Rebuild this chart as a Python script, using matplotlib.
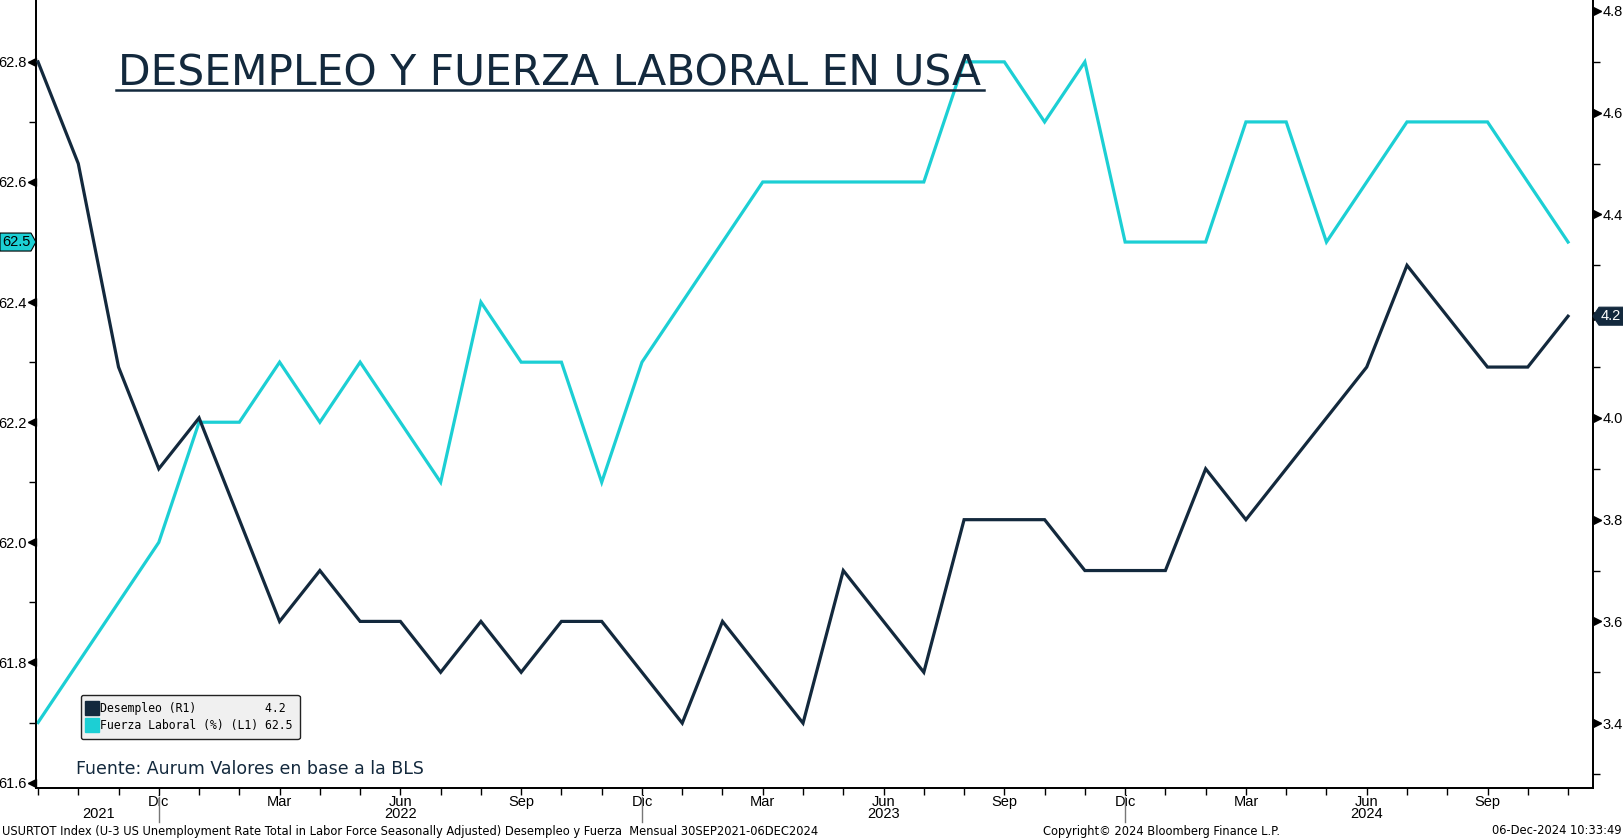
import numpy as np
import matplotlib.pyplot as plt
import matplotlib.transforms as mtransforms
from matplotlib.lines import Line2D
from matplotlib.patches import Polygon

# datos mensuales sep-2021 .. nov-2024
meses = ["Sep", "Oct", "Nov", "Dic", "Ene", "Feb", "Mar", "Abr", "May", "Jun", "Jul", "Ago"]
start_month = 8  # sep (0-based)
fuerza_laboral = [61.7, 61.8, 61.9, 62.0,
                  62.2, 62.2, 62.3, 62.2, 62.3, 62.2, 62.1, 62.4, 62.3, 62.3, 62.1, 62.3,
                  62.4, 62.5, 62.6, 62.6, 62.6, 62.6, 62.6, 62.8, 62.8, 62.7, 62.8, 62.5,
                  62.5, 62.5, 62.7, 62.7, 62.5, 62.6, 62.7, 62.7, 62.7, 62.6, 62.5]
desempleo = [4.7, 4.5, 4.1, 3.9,
             4.0, 3.8, 3.6, 3.7, 3.6, 3.6, 3.5, 3.6, 3.5, 3.6, 3.6, 3.5,
             3.4, 3.6, 3.5, 3.4, 3.7, 3.6, 3.5, 3.8, 3.8, 3.8, 3.7, 3.7,
             3.7, 3.9, 3.8, 3.9, 4.0, 4.1, 4.3, 4.2, 4.1, 4.1, 4.2]
year_labels = ["2021", "2022", "2023", "2024"]
year_pos = [1.5, 9, 21, 33]

navy = "#13293d"
cyan = "#1ccfd4"
tickfont = "Liberation Sans"

n = len(desempleo)
x = np.arange(n)
W, H = 1624, 840

fig = plt.figure(figsize=(16.24, 8.40), dpi=100)
ax = fig.add_axes([36/W, 52/H, (1593-36)/W, 788/H])
ax2 = ax.twinx()

ax.plot(x, fuerza_laboral, color=cyan, lw=2.3, solid_joinstyle="miter", zorder=3)
ax2.plot(x, desempleo, color=navy, lw=2.3, solid_joinstyle="miter", zorder=3)

ax.set_xlim(-0.05, 38.62)
ax.set_ylim(61.591, 62.903)
ax2.set_ylim(3.2725, 4.8216)

for a in (ax, ax2):
    a.spines["top"].set_visible(False)
    for s in ("left", "right", "bottom"):
        a.spines[s].set_linewidth(1.3)
        a.spines[s].set_color("black")
    a.set_facecolor("none")

# y ticks
lt = [61.6, 61.8, 62.0, 62.2, 62.4, 62.6, 62.8]
rt = [3.4, 3.6, 3.8, 4.0, 4.2, 4.4, 4.6, 4.8]
ax.set_yticks(lt)
ax.set_yticklabels([f"{v:.1f}" for v in lt], family=tickfont, fontsize=10.5)
ax.set_yticks(np.arange(61.7, 62.9, 0.2), minor=True)
ax2.set_yticks(rt)
ax2.set_yticklabels([f"{v:.1f}" for v in rt], family=tickfont, fontsize=10.5)
ax2.set_yticks(np.arange(3.3, 4.8, 0.2), minor=True)
for a in (ax, ax2):
    a.tick_params(axis="y", which="major", length=6, width=1, pad=1)
    a.tick_params(axis="y", which="minor", length=5, width=1)

# triangle markers at major ticks
tl = mtransforms.blended_transform_factory(ax.transAxes, ax.transData)
tr = mtransforms.blended_transform_factory(ax2.transAxes, ax2.transData)
ax.plot([-0.0025] * len(lt), lt, marker="<", ls="none", ms=6, color="black",
        transform=tl, clip_on=False)
ax2.plot([1.0025] * len(rt), rt, marker=">", ls="none", ms=6, color="black",
         transform=tr, clip_on=False)

# x ticks
ax.set_xticks(x, minor=True)
lab_idx = [i for i in range(n) if (start_month + i) % 12 in (2, 5, 8, 11) and i > 0]
ax.set_xticks(lab_idx)
ax.set_xticklabels([meses[(start_month + i - 8) % 12] for i in lab_idx],
                   family=tickfont, fontsize=10.5)
ax.tick_params(axis="x", which="both", length=5, width=1, pad=0)

tb = mtransforms.blended_transform_factory(ax.transData, ax.transAxes)
for i in range(n):
    if (start_month + i) % 12 == 11:
        ax.add_line(Line2D([i, i], [-0.012, -0.043], color="#777777", lw=1,
                           transform=tb, clip_on=False))
for lbl, p in zip(year_labels, year_pos):
    ax.text(p, -0.033, lbl, transform=tb, ha="center", va="center",
            family=tickfont, fontsize=10.5)

# value tags (drawn in pixel space from the data position)
y_l = ax.transData.transform((0, fuerza_laboral[-1]))[1]
pts = [(0, y_l - 9), (31, y_l - 9), (36, y_l), (31, y_l + 9), (0, y_l + 9)]
fig.add_artist(Polygon([(px / W, py / H) for px, py in pts], closed=True,
                       transform=fig.transFigure, fc=cyan, ec="black", lw=0.8))
fig.text(16 / W, y_l / H, f"{fuerza_laboral[-1]:.1f}", ha="center", va="center",
         family=tickfont, fontsize=10.5, color="black")

y_r = ax2.transData.transform((0, desempleo[-1]))[1]
pts = [(1593, y_r), (1599, y_r - 9), (1624, y_r - 9), (1624, y_r + 9), (1599, y_r + 9)]
fig.add_artist(Polygon([(px / W, py / H) for px, py in pts], closed=True,
                       transform=fig.transFigure, fc=navy, ec=navy, lw=0.8))
fig.text(1611 / W, y_r / H, f"{desempleo[-1]:.1f}", ha="center", va="center",
         family=tickfont, fontsize=10.5, color="white")

# legend
handles = [Line2D([], [], marker="s", ls="none", ms=10, color=navy),
           Line2D([], [], marker="s", ls="none", ms=10, color=cyan)]
labels = ["Desempleo (R1)" + " " * 10 + "4.2", "Fuerza Laboral (%) (L1) 62.5"]
leg = ax.legend(handles, labels, loc="lower left", bbox_to_anchor=(0.025, 0.055),
                prop={"family": "DejaVu Sans Mono", "size": 8.3}, frameon=True,
                fancybox=True, handlelength=0.8, handletextpad=0.3, labelspacing=0.35,
                borderpad=0.6, framealpha=1)
leg.get_frame().set_facecolor("#f0f0f0")
leg.get_frame().set_edgecolor("#222222")
leg.get_frame().set_linewidth(1)

ax.text(0.026, 0.013, "Fuente: Aurum Valores en base a la BLS", transform=ax.transAxes,
        fontsize=12.5, color=navy, ha="left", va="bottom")

# title
fig.text(118/W, 1 - 85/H, "DESEMPLEO Y FUERZA LABORAL EN USA", fontsize=30.5,
         color=navy, ha="left", va="baseline")
fig.add_artist(Line2D([116/W, 984/W], [1 - 90/H, 1 - 90/H], color=navy, lw=1.8))

# footer
fig.text(2/W, 9/H, "USURTOT Index (U-3 US Unemployment Rate Total in Labor Force Seasonally Adjusted) "
         "Desempleo y Fuerza  Mensual 30SEP2021-06DEC2024", fontsize=8.3, ha="left", va="center")
fig.text(1043/W, 9/H, "Copyright\u00a9 2024 Bloomberg Finance L.P.", fontsize=8.3,
         ha="left", va="center")
fig.text(1622/W, 9/H, "06-Dec-2024 10:33:49", fontsize=8.3, ha="right", va="center")

fig.savefig("out.png", dpi=100)
